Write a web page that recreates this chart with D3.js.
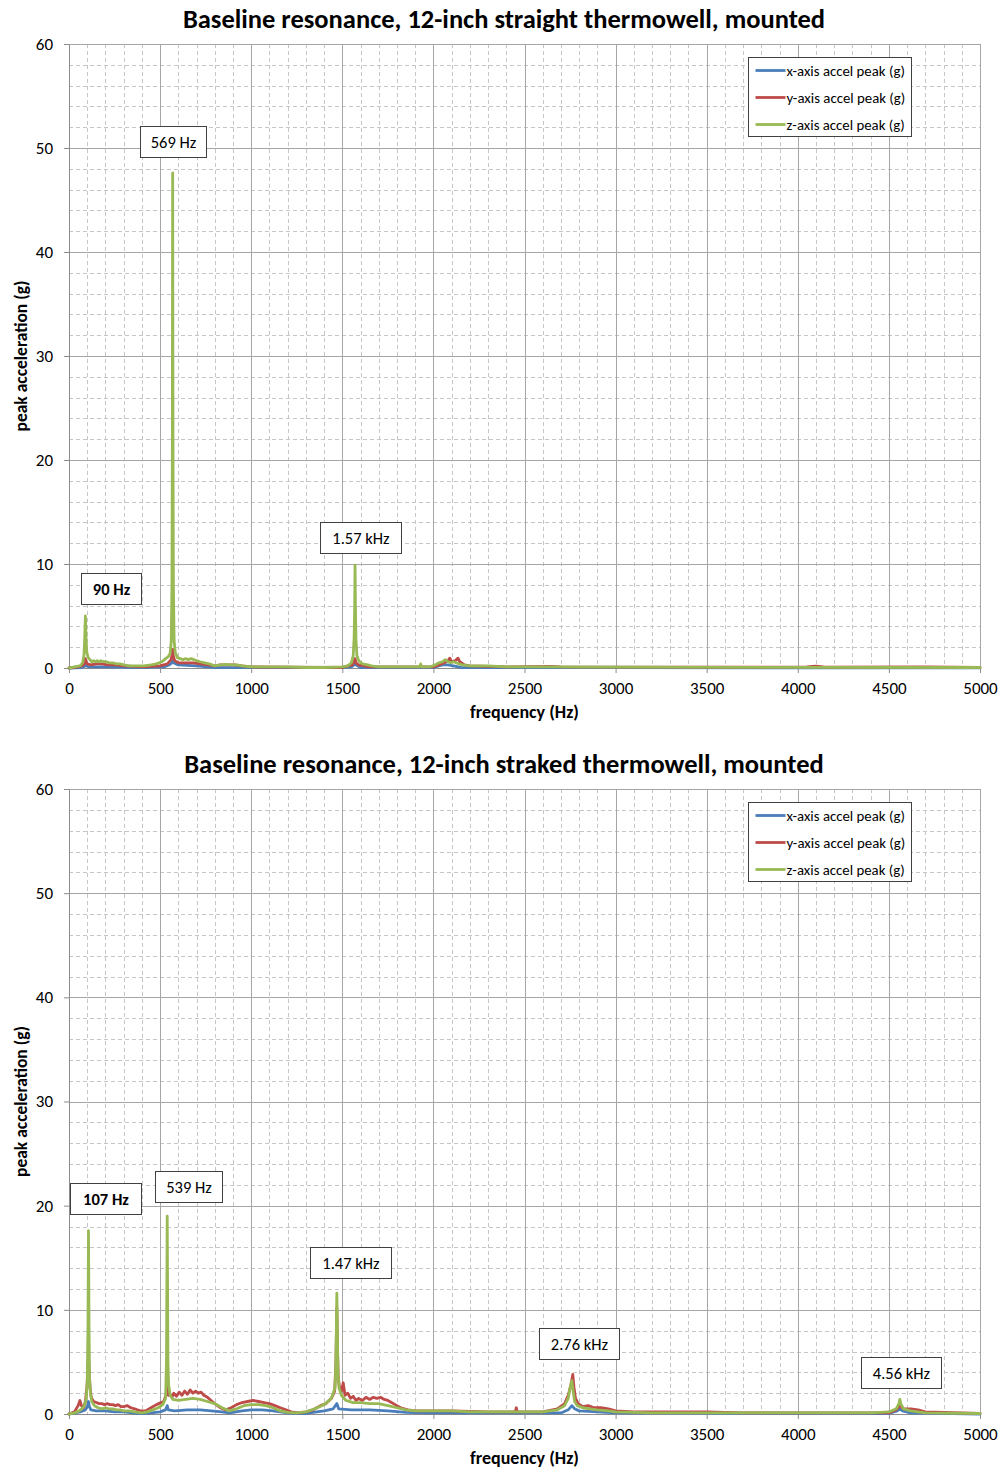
<!DOCTYPE html>
<html>
<head>
<meta charset="utf-8">
<script src="https://cdn.jsdelivr.net/npm/d3@7"></script>
<style>
  html, body { margin: 0; padding: 0; background: #fff; }
  svg { display: block; }
  text { font-family: Carlito, Calibri, Lato, "Open Sans", sans-serif; fill: #000; }
</style>
</head>
<body>
<svg id="chart" width="999" height="1468"></svg>
<script>
// ---- axis ticks ----
const xTicks = [0, 500, 1000, 1500, 2000, 2500, 3000, 3500, 4000, 4500, 5000];
const yTicks = [0, 10, 20, 30, 40, 50, 60];
const seriesNames = ["x-axis accel peak (g)", "y-axis accel peak (g)", "z-axis accel peak (g)"];
const seriesColors = ["#4a7ebb", "#be4b48", "#98b954"];

// ---- straight thermowell: [frequency Hz, peak g] ----
const straightX = [[0,0],[70,0.05],[84,0.15],[90,0.4],[95,0.2],[110,0.1],[200,0.1],[400,0.05],[520,0.1],[550,0.3],[565,0.5],[569,0.7],[573,0.5],[600,0.3],[650,0.25],[700,0.2],[760,0.1],[800,0.05],[1500,0.03],[1550,0.1],[1565,0.3],[1570,0.5],[1575,0.3],[1600,0.05],[2000,0.05],[2030,0.2],[2050,0.3],[2080,0.3],[2110,0.2],[2150,0.05],[3000,0.03],[5000,0.02]];
const straightY = [[0,0],[50,0.1],[80,0.3],[86,0.5],[90,0.9],[94,0.6],[100,0.4],[120,0.3],[150,0.4],[180,0.4],[210,0.3],[250,0.3],[300,0.2],[400,0.1],[500,0.2],[540,0.4],[560,0.8],[566,1.3],[569,1.8],[572,1.2],[580,0.7],[600,0.5],[640,0.5],[680,0.5],[720,0.4],[760,0.3],[800,0.2],[830,0.3],[870,0.3],[910,0.3],[950,0.2],[1000,0.1],[1200,0.08],[1500,0.05],[1555,0.3],[1565,0.6],[1570,0.9],[1575,0.5],[1590,0.3],[1650,0.1],[2000,0.1],[2030,0.3],[2060,0.5],[2080,0.7],[2090,0.95],[2100,0.6],[2120,0.7],[2135,0.95],[2145,0.6],[2170,0.3],[2200,0.2],[2300,0.15],[2400,0.1],[2640,0.15],[2700,0.1],[3600,0.08],[4050,0.1],[4100,0.18],[4150,0.08],[4700,0.1],[5000,0.05]];
const straightZ = [[0,0],[30,0.1],[60,0.2],[75,0.5],[82,1.2],[86,2.8],[90,5.0],[94,2.6],[98,1.5],[105,1.0],[115,0.8],[125,0.6],[135,0.7],[145,0.6],[155,0.7],[165,0.6],[175,0.7],[190,0.6],[205,0.6],[220,0.5],[240,0.5],[260,0.4],[280,0.4],[300,0.3],[330,0.2],[370,0.2],[410,0.2],[450,0.3],[480,0.4],[510,0.6],[530,0.9],[545,1.1],[555,1.4],[561,2.5],[565,8],[567,20],[569,47.6],[571,20],[573,8],[577,2.6],[583,1.5],[595,1.0],[610,0.9],[625,0.8],[640,0.9],[655,0.8],[670,0.9],[685,0.8],[700,0.7],[720,0.6],[745,0.5],[770,0.4],[800,0.2],[830,0.3],[860,0.35],[890,0.3],[920,0.3],[950,0.2],[1000,0.1],[1100,0.1],[1200,0.1],[1300,0.05],[1400,0.05],[1500,0.1],[1530,0.2],[1550,0.5],[1560,1.2],[1565,3.0],[1568,6],[1570,9.9],[1572,6],[1575,2.8],[1580,1.2],[1590,0.7],[1610,0.4],[1640,0.3],[1660,0.2],[1700,0.1],[1800,0.1],[1925,0.1],[1930,0.4],[1935,0.1],[1980,0.1],[2010,0.3],[2030,0.5],[2050,0.6],[2065,0.8],[2080,0.6],[2095,0.5],[2110,0.6],[2125,0.5],[2140,0.4],[2160,0.3],[2200,0.2],[2300,0.2],[2400,0.1],[2600,0.1],[3000,0.08],[4000,0.06],[5000,0.05]];

// ---- straked thermowell: [frequency Hz, peak g] ----
const strakedX = [[0,0],[60,0.2],[90,0.4],[100,0.7],[107,1.2],[112,0.7],[120,0.4],[150,0.3],[200,0.3],[250,0.2],[300,0.2],[350,0.1],[400,0.05],[450,0.1],[500,0.2],[530,0.4],[539,0.8],[545,0.4],[580,0.3],[650,0.4],[720,0.4],[780,0.3],[840,0.2],[880,0.1],[950,0.3],[1000,0.4],[1060,0.4],[1120,0.3],[1200,0.1],[1300,0.05],[1400,0.3],[1450,0.5],[1470,1.0],[1480,0.5],[1550,0.4],[1650,0.4],[1750,0.3],[1850,0.15],[1950,0.1],[2000,0.1],[2700,0.1],[2740,0.4],[2760,0.8],[2775,0.5],[2800,0.3],[2900,0.2],[3000,0.1],[4500,0.05],[4545,0.3],[4560,0.5],[4575,0.3],[4620,0.1],[5000,0]];
const strakedY = [[0,0],[30,0.2],[50,0.8],[60,1.3],[68,0.8],[80,0.6],[90,1.2],[98,2.5],[103,4],[107,5.5],[111,4],[116,2.5],[122,1.6],[135,1.2],[150,1.1],[165,1.0],[180,1.0],[195,0.9],[210,1.0],[225,0.9],[240,0.9],[255,0.8],[270,0.9],[285,0.7],[300,0.7],[320,0.8],[340,0.6],[360,0.5],[390,0.3],[420,0.3],[450,0.6],[480,0.9],[505,1.1],[520,1.2],[532,1.8],[539,2.8],[546,1.8],[555,1.9],[565,1.6],[575,2.0],[590,1.7],[605,2.1],[620,1.8],[635,2.2],[650,1.9],[665,2.3],[680,2.0],[695,2.2],[710,2.0],[725,2.1],[740,1.8],[760,1.6],[780,1.3],[800,1.0],[830,0.6],[860,0.4],[890,0.6],[920,0.9],[950,1.1],[980,1.2],[1010,1.3],[1040,1.2],[1070,1.1],[1100,1.0],[1130,0.8],[1160,0.6],[1190,0.4],[1220,0.2],[1260,0.1],[1300,0.2],[1340,0.4],[1380,0.8],[1410,1.0],[1440,1.5],[1458,2.2],[1465,5],[1470,10.2],[1474,6],[1478,3.5],[1485,2.5],[1495,2.2],[1505,3.0],[1515,1.8],[1530,2.0],[1545,1.5],[1560,1.7],[1575,1.3],[1590,1.5],[1610,1.3],[1630,1.6],[1650,1.4],[1670,1.6],[1690,1.5],[1710,1.6],[1730,1.4],[1750,1.3],[1770,1.1],[1790,0.9],[1820,0.6],[1860,0.4],[1900,0.3],[1950,0.3],[2000,0.3],[2100,0.3],[2200,0.25],[2300,0.2],[2450,0.2],[2455,0.6],[2460,0.2],[2600,0.2],[2680,0.5],[2720,1.0],[2740,1.8],[2755,2.8],[2765,3.8],[2772,2.5],[2780,1.5],[2795,1.0],[2820,0.7],[2850,0.8],[2880,0.6],[2920,0.6],[2960,0.5],[3000,0.3],[3100,0.2],[3500,0.2],[3700,0.1],[4500,0.1],[4540,0.4],[4560,0.8],[4580,0.5],[4620,0.5],[4660,0.4],[4700,0.2],[5000,0.05]];
const strakedZ = [[0,0],[30,0.1],[55,0.3],[70,0.5],[85,0.8],[95,1.5],[100,3.0],[104,8],[107,17.6],[110,8],[113,3.2],[118,2.0],[125,1.2],[140,0.8],[160,0.6],[180,0.5],[200,0.6],[220,0.5],[240,0.5],[260,0.4],[280,0.4],[300,0.3],[330,0.3],[360,0.2],[400,0.1],[430,0.2],[460,0.4],[490,0.6],[515,0.9],[530,1.5],[535,5],[537,12],[539,19.0],[541,12],[543,5],[547,2.8],[555,1.8],[570,1.4],[600,1.3],[640,1.4],[680,1.5],[720,1.4],[760,1.2],[800,1.0],[840,0.6],[880,0.3],[920,0.5],[960,0.8],[1000,0.9],[1040,0.9],[1080,0.8],[1120,0.6],[1160,0.3],[1200,0.15],[1250,0.1],[1300,0.2],[1350,0.5],[1400,0.9],[1440,1.5],[1460,2.5],[1465,5],[1468,9],[1470,11.6],[1473,8],[1476,4.0],[1482,2.5],[1495,1.8],[1520,1.3],[1560,1.1],[1600,1.1],[1650,1.0],[1700,1.0],[1750,0.8],[1800,0.6],[1850,0.4],[1900,0.3],[2000,0.3],[2100,0.3],[2200,0.2],[2600,0.2],[2680,0.4],[2720,0.8],[2740,1.5],[2750,2.5],[2760,3.2],[2766,2.3],[2775,1.2],[2790,0.8],[2820,0.6],[2860,0.5],[2900,0.4],[2960,0.3],[3000,0.2],[3200,0.1],[4400,0.1],[4500,0.2],[4540,0.5],[4555,1.0],[4560,1.4],[4565,1.0],[4580,0.5],[4620,0.3],[4700,0.1],[5000,0.05]];

// ---- callout labels ----
const straightPeaks = [{text: "90 Hz", bold: true}, {text: "569 Hz"}, {text: "1.57 kHz"}];
const strakedPeaks = [{text: "107 Hz", bold: true}, {text: "539 Hz"}, {text: "1.47 kHz"}, {text: "2.76 kHz"}, {text: "4.56 kHz"}];

// ---- layout ----
const FONT = "Carlito, Calibri, Lato, 'Open Sans', sans-serif";
const panels = [
  {
    title: "Baseline resonance, 12-inch straight thermowell, mounted",
    top: 44, bottom: 668,
    series: [straightX, straightY, straightZ],
    peaks: straightPeaks,
    // callout box left / top / width, px relative to plot
    boxes: [[12, 529, 60], [71, 82, 66], [251, 478, 81]]
  },
  {
    title: "Baseline resonance, 12-inch straked thermowell, mounted",
    top: 789, bottom: 1414,
    series: [strakedX, strakedY, strakedZ],
    peaks: strakedPeaks,
    boxes: [[1, 394, 71], [86, 382, 67], [241, 458, 81], [470, 539, 80], [792, 568, 80]]
  }
];
const left = 69, right = 980;

const svg = d3.select("#chart");

panels.forEach(p => {
  const x = d3.scaleLinear().domain([0, 5000]).range([left, right]);
  const y = d3.scaleLinear().domain([0, 60]).range([p.bottom, p.top]);
  const g = svg.append("g");

  // minor grid (dashed)
  const minorX = d3.range(0, 5001, 100).filter(v => v % 500 !== 0);
  const minorY = d3.range(0, 61, 2).filter(v => v % 10 !== 0);
  g.append("g").selectAll("line").data(minorX).join("line")
    .attr("x1", d => Math.round(x(d)) + 0.5).attr("x2", d => Math.round(x(d)) + 0.5)
    .attr("y1", p.top).attr("y2", p.bottom)
    .attr("stroke", "#c6c6c6").attr("stroke-width", 1).attr("stroke-dasharray", "4,3");
  g.append("g").selectAll("line").data(minorY).join("line")
    .attr("y1", d => Math.round(y(d)) + 0.5).attr("y2", d => Math.round(y(d)) + 0.5)
    .attr("x1", left).attr("x2", right)
    .attr("stroke", "#c6c6c6").attr("stroke-width", 1).attr("stroke-dasharray", "4,3");

  // major grid (solid)
  g.append("g").selectAll("line").data(xTicks).join("line")
    .attr("x1", d => Math.round(x(d)) + 0.5).attr("x2", d => Math.round(x(d)) + 0.5)
    .attr("y1", p.top).attr("y2", p.bottom)
    .attr("stroke", "#a6a6a6").attr("stroke-width", 1);
  g.append("g").selectAll("line").data(yTicks).join("line")
    .attr("y1", d => Math.round(y(d)) + 0.5).attr("y2", d => Math.round(y(d)) + 0.5)
    .attr("x1", left).attr("x2", right)
    .attr("stroke", "#a6a6a6").attr("stroke-width", 1);

  // axes
  const xAxis = g.append("g").attr("transform", `translate(0,${p.bottom})`)
    .call(d3.axisBottom(x).tickValues(xTicks).tickSize(5).tickSizeOuter(0).tickPadding(9).tickFormat(d3.format("d")));
  const yAxis = g.append("g").attr("transform", `translate(${left},0)`)
    .call(d3.axisLeft(y).tickValues(yTicks).tickSize(5).tickSizeOuter(0).tickPadding(11).tickFormat(d3.format("d")));
  [xAxis, yAxis].forEach(a => {
    a.select(".domain").attr("stroke", "#8c8c8c");
    a.selectAll(".tick line").attr("stroke", "#8c8c8c");
    a.selectAll(".tick text").attr("font-size", 17).attr("fill", "#000")
      .style("font-family", FONT);
  });

  // series lines
  const line = d3.line().x(d => x(d[0])).y(d => y(d[1])).curve(d3.curveLinear);
  p.series.forEach((s, i) => {
    g.append("path").datum(s)
      .attr("d", line)
      .attr("fill", "none")
      .attr("stroke", seriesColors[i])
      .attr("stroke-width", 2.8)
      .attr("stroke-linejoin", "round")
      .attr("stroke-linecap", "round");
  });

  // title & axis titles
  svg.append("text").attr("x", 504).attr("y", p.top - 16)
    .attr("text-anchor", "middle").attr("font-size", 26.5).attr("font-weight", "bold")
    .text(p.title);
  svg.append("text").attr("x", (left + right) / 2).attr("y", p.bottom + 50)
    .attr("text-anchor", "middle").attr("font-size", 18).attr("font-weight", "bold")
    .text("frequency (Hz)");
  svg.append("text")
    .attr("transform", `translate(27,${(p.top + p.bottom) / 2}) rotate(-90)`)
    .attr("text-anchor", "middle").attr("font-size", 17.5).attr("font-weight", "bold")
    .text("peak acceleration (g)");

  // legend
  const lg = svg.append("g").attr("transform", `translate(748.5,${p.top + 13.5})`);
  lg.append("rect").attr("width", 163).attr("height", 79)
    .attr("fill", "#fff").attr("stroke", "#404040").attr("stroke-width", 1);
  seriesNames.forEach((name, i) => {
    const yy = 13 + i * 27;
    lg.append("line").attr("x1", 7).attr("x2", 37).attr("y1", yy).attr("y2", yy)
      .attr("stroke", seriesColors[i]).attr("stroke-width", 2.8);
    lg.append("text").attr("x", 38).attr("y", yy + 5).attr("font-size", 14.8).text(name);
  });

  // callouts
  p.peaks.forEach((pk, i) => {
    const [bx, by, bw] = p.boxes[i];
    const cg = svg.append("g").attr("transform", `translate(${left + bx + 0.5},${p.top + by + 0.5})`);
    cg.append("rect").attr("width", bw).attr("height", 31)
      .attr("fill", "#fff").attr("stroke", "#404040").attr("stroke-width", 1);
    cg.append("text").attr("x", bw / 2).attr("y", 21).attr("text-anchor", "middle")
      .attr("font-size", 16.5).attr("font-weight", pk.bold ? "bold" : "normal")
      .text(pk.text);
  });
});
</script>
</body>
</html>
